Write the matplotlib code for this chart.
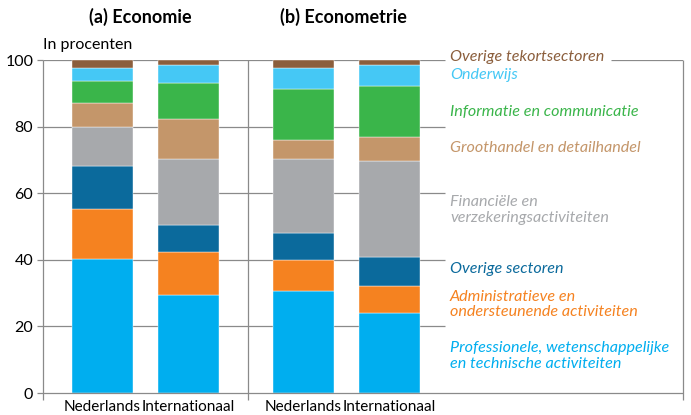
import matplotlib
matplotlib.use("Agg")
import matplotlib.pyplot as plt

plt.rcParams['font.family'] = ['Lato', 'DejaVu Sans']

# data (percentages), bottom to top
sectors = ["Professionele, wetenschappelijke\nen technische activiteiten",
           "Administratieve en\nondersteunende activiteiten",
           "Overige sectoren",
           "Financiële en\nverzekeringsactiviteiten",
           "Groothandel en detailhandel",
           "Informatie en communicatie",
           "Onderwijs",
           "Overige tekortsectoren"]
colors = ["#00aeef", "#f58220", "#0b6a9c", "#a7a9ac",
          "#c4966a", "#3ab54a", "#45c8f5", "#8b5e3c"]

groups = ["Nederlands", "Internationaal", "Nederlands", "Internationaal"]
eco_nl = [40.2, 15.1, 12.9, 11.7, 7.3, 6.6, 3.9, 2.3]
eco_int = [29.3, 13.1, 8.2, 19.6, 12.1, 10.8, 5.4, 1.5]
ectr_nl = [30.6, 9.2, 8.2, 22.2, 5.7, 15.5, 6.1, 2.5]
ectr_int = [23.9, 8.3, 8.7, 28.7, 7.3, 15.4, 6.3, 1.4]
series = [eco_nl, eco_int, ectr_nl, ectr_int]

# layout (axis units ~ pixels)
xpos = [59.5, 145.5, 260.5, 346.5]
bar_w = 61
label_x = 407
label_y = [11.1, 26.6, 37.2, 55.0, 73.6, 84.4, 95.5, 101.0]

fig = plt.figure(figsize=(6.91, 4.15), dpi=100)
ax = fig.add_axes([43/691, 1 - 393/415, 640/691, 333/415])

for i, vals in enumerate(series):
    bottom = 0
    for v, c in zip(vals, colors):
        ax.bar(xpos[i], v, bar_w, bottom=bottom, color=c, edgecolor='white',
               linewidth=0.3, zorder=3)
        bottom += v

grid_c = "#8a8a8a"
for y in [20, 40, 60, 80]:
    ax.hlines(y, 0, 402, color=grid_c, lw=0.9, zorder=1)
ax.hlines(100, 0, 402, color=grid_c, lw=0.9, zorder=1)
ax.hlines(100, 568, 640, color=grid_c, lw=0.9, zorder=1)
ax.hlines(0, 0, 640, color=grid_c, lw=0.9, zorder=4, clip_on=False)
for x in [0, 205, 640]:
    ax.vlines(x, -2.2, 100, color=grid_c, lw=0.9, zorder=4, clip_on=False)

for name, c, y in zip(sectors, colors, label_y):
    ax.text(label_x, y, name, color=c, fontsize=11.6, style='italic',
            va='center', ha='left', linespacing=1.15)

ax.set_xlim(0, 640)
ax.set_ylim(0, 100)
for s in ax.spines.values():
    s.set_visible(False)
ax.set_yticks([0, 20, 40, 60, 80, 100])
ax.tick_params(axis='y', length=4, color=grid_c, width=0.9, labelsize=11.5, pad=3)
ax.set_xticks(xpos)
ax.set_xticklabels(groups, fontsize=11)
ax.tick_params(axis='x', length=0, pad=5)

fig.text(140/691, 1 - 17/415, "(a) Economie", fontsize=13, fontweight='bold',
         ha='center', va='center')
fig.text(343/691, 1 - 17/415, "(b) Econometrie", fontsize=13, fontweight='bold',
         ha='center', va='center')
fig.text(43/691, 1 - 45/415, "In procenten", fontsize=11.5, ha='left', va='center')

fig.savefig("out.png", dpi=100)
